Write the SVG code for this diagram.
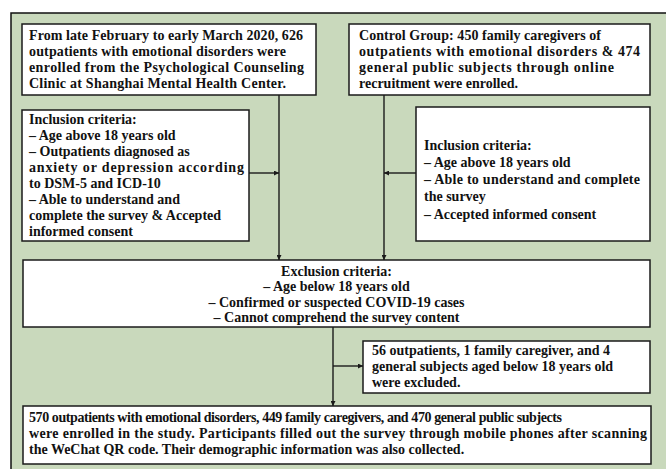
<svg xmlns="http://www.w3.org/2000/svg" width="666" height="469" viewBox="0 0 666 469">
<defs>
<style>
.box{fill:#fff;stroke:#1a1a1a;stroke-width:1.5}
.t{font-family:"Liberation Serif","Times New Roman",serif;font-weight:bold;font-size:14px;fill:#111}
.c{text-anchor:middle}
.ln{stroke:#1a1a1a;stroke-width:1.4;fill:none}
</style>
<marker id="ah" viewBox="0 0 10 10" refX="10" refY="5" markerWidth="5" markerHeight="5" orient="auto" markerUnits="userSpaceOnUse">
<path d="M0,0 L10,5 L0,10 z" fill="#1a1a1a"/>
</marker>
</defs>
<rect x="0" y="0" width="666" height="469" fill="#fff"/>
<rect x="11" y="13" width="670" height="470" fill="#C9D9BC" stroke="#111" stroke-width="1.5"/>

<g id="connectors">
<line class="ln" x1="279" y1="95" x2="279" y2="260" marker-end="url(#ah)"/>
<line class="ln" x1="249" y1="173" x2="279" y2="173" marker-end="url(#ah)"/>
<line class="ln" x1="384" y1="95" x2="384" y2="260" marker-end="url(#ah)"/>
<line class="ln" x1="416" y1="173" x2="384" y2="173" marker-end="url(#ah)"/>
<line class="ln" x1="333" y1="327" x2="333" y2="406" marker-end="url(#ah)"/>
<line class="ln" x1="333" y1="366" x2="363" y2="366" marker-end="url(#ah)"/>
</g>

<g id="enrolled-outpatients">
<rect class="box" x="22" y="24" width="294" height="71"/>
<text class="t" x="29" y="39.5" textLength="274" lengthAdjust="spacing">From late February to early March 2020, 626</text>
<text class="t" x="29" y="55.8" textLength="257" lengthAdjust="spacing">outpatients with emotional disorders were</text>
<text class="t" x="29" y="72.1" textLength="275" lengthAdjust="spacing">enrolled from the Psychological Counseling</text>
<text class="t" x="29" y="88.4" textLength="257" lengthAdjust="spacing">Clinic at Shanghai Mental Health Center.</text>
</g>

<g id="control-group">
<rect class="box" x="349" y="24" width="301" height="71"/>
<text class="t" x="359" y="39.5" textLength="242" lengthAdjust="spacing">Control Group: 450 family caregivers of</text>
<text class="t" x="359" y="55.8" textLength="281" lengthAdjust="spacing">outpatients with emotional disorders &amp; 474</text>
<text class="t" x="359" y="72.1" textLength="255" lengthAdjust="spacing">general public subjects through online</text>
<text class="t" x="359" y="88.4">recruitment were enrolled.</text>
</g>

<g id="inclusion-outpatients">
<rect class="box" x="22" y="110" width="227" height="131"/>
<text class="t" x="29" y="124">Inclusion criteria:</text>
<text class="t" x="29" y="140">– Age above 18 years old</text>
<text class="t" x="29" y="156">– Outpatients diagnosed as</text>
<text class="t" x="29" y="172" textLength="215" lengthAdjust="spacing">anxiety or depression according</text>
<text class="t" x="29" y="188">to DSM-5 and ICD-10</text>
<text class="t" x="29" y="204">– Able to understand and</text>
<text class="t" x="29" y="220">complete the survey &amp; Accepted</text>
<text class="t" x="29" y="236">informed consent</text>
</g>

<g id="inclusion-control">
<rect class="box" x="416" y="107" width="234" height="134"/>
<text class="t" x="424" y="149.5">Inclusion criteria:</text>
<text class="t" x="424" y="166.8">– Age above 18 years old</text>
<text class="t" x="424" y="184.1" textLength="216" lengthAdjust="spacing">– Able to understand and complete</text>
<text class="t" x="424" y="201.4">the survey</text>
<text class="t" x="424" y="218.7">– Accepted informed consent</text>
</g>

<g id="exclusion">
<rect class="box" x="23" y="260" width="627" height="67"/>
<text class="t c" x="336.5" y="275.5">Exclusion criteria:</text>
<text class="t c" x="336.5" y="291">– Age below 18 years old</text>
<text class="t c" x="336.5" y="306.5">– Confirmed or suspected COVID-19 cases</text>
<text class="t c" x="336.5" y="322">– Cannot comprehend the survey content</text>
</g>

<g id="excluded">
<rect class="box" x="363" y="341" width="287" height="52"/>
<text class="t" x="372" y="355">56 outpatients, 1 family caregiver, and 4</text>
<text class="t" x="372" y="371">general subjects aged below 18 years old</text>
<text class="t" x="372" y="387">were excluded.</text>
</g>

<g id="final">
<rect class="box" x="23" y="406" width="628" height="58"/>
<text class="t" x="29" y="422" textLength="533" lengthAdjust="spacing">570 outpatients with emotional disorders, 449 family caregivers, and 470 general public subjects</text>
<text class="t" x="29" y="438" textLength="618" lengthAdjust="spacing">were enrolled in the study. Participants filled out the survey through mobile phones after scanning</text>
<text class="t" x="29" y="454">the WeChat QR code. Their demographic information was also collected.</text>
</g>
</svg>
